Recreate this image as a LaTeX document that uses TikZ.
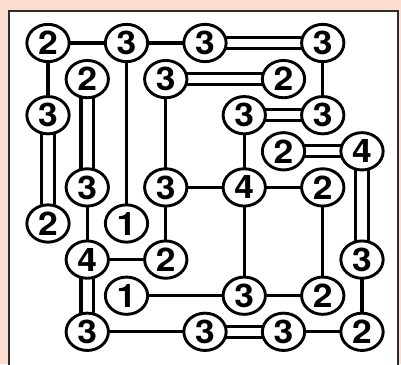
\documentclass[tikz,border=0pt]{standalone}
\usepackage{fontspec}
\setmainfont{TeX Gyre Heros}
\usepackage{graphicx}
\usetikzlibrary{shapes.geometric,backgrounds}
\definecolor{pinkbg}{RGB}{253,221,208}
\definecolor{framec}{RGB}{45,45,45}
\newcommand\islnum[1]{\scalebox{1.09}[1]{#1}}
\newcommand\putisl[4]{\node[isl] (#1) at ({48+39.25*#2},{43+36.1*#3}) {\islnum{#4}};}
\begin{document}
\begin{tikzpicture}[x=1pt,y=-1pt,
  isl/.style={ellipse,draw=black,fill=white,line width=2.9pt,minimum width=42.3pt,minimum height=37.3pt,inner sep=0pt,font=\fontsize{32.5}{32.5}\selectfont\bfseries},
  br/.style={line width=3.1pt,draw=black},
  hdbl/.style={br},
  vdbl/.style={br}]
\useasboundingbox (0,0) rectangle (401,364);
\clip (0,0) rectangle (401,364);
% islands
\putisl{a}{0}{0}{2}
\putisl{b}{2}{0}{3}
\putisl{c}{4}{0}{3}
\putisl{d}{7}{0}{3}
\putisl{e}{1}{1}{2}
\putisl{f}{3}{1}{3}
\putisl{g}{6}{1}{2}
\putisl{h}{0}{2}{3}
\putisl{i}{5}{2}{3}
\putisl{j}{7}{2}{3}
\putisl{k}{6}{3}{2}
\putisl{l}{8}{3}{4}
\putisl{m}{1}{4}{3}
\putisl{n}{3}{4}{3}
\putisl{o}{5}{4}{4}
\putisl{p}{7}{4}{2}
\putisl{q}{0}{5}{2}
\putisl{r}{2}{5}{1}
\putisl{s}{1}{6}{4}
\putisl{t}{3}{6}{2}
\putisl{u}{8}{6}{3}
\putisl{v}{2}{7}{1}
\putisl{w}{5}{7}{3}
\putisl{x}{7}{7}{2}
\putisl{y}{1}{8}{3}
\putisl{z}{4}{8}{3}
\putisl{aa}{6}{8}{3}
\putisl{ab}{8}{8}{2}
\begin{scope}[on background layer]
  \fill[pinkbg] (0,0) rectangle (401,364);
  \filldraw[fill=white,draw=framec,line width=2pt] (9,11) rectangle (398,380);
  % single bridges
  \draw[br] (a.center) -- (b.center);
  \draw[br] (b.center) -- (c.center);
  \draw[br] (a.center) -- (h.center);
  \draw[br] (b.center) -- (r.center);
  \draw[br] (d.center) -- (j.center);
  \draw[br] (f.center) -- (n.center);
  \draw[br] (i.center) -- (o.center);
  \draw[br] (n.center) -- (o.center);
  \draw[br] (o.center) -- (p.center);
  \draw[br] (o.center) -- (w.center);
  \draw[br] (p.center) -- (x.center);
  \draw[br] (m.center) -- (s.center);
  \draw[br] (s.center) -- (t.center);
  \draw[br] (n.center) -- (t.center);
  \draw[br] (v.center) -- (w.center);
  \draw[br] (w.center) -- (x.center);
  \draw[br] (u.center) -- (ab.center);
  \draw[br] (y.center) -- (z.center);
  \draw[br] (aa.center) -- (ab.center);
  % horizontal double bridges
  \foreach \s/\t in {c/d,f/g,i/j,k/l,z/aa}{
    \draw[hdbl] ([yshift=5.5pt]\s.center) -- ([yshift=5.5pt]\t.center);
    \draw[hdbl] ([yshift=-5.5pt]\s.center) -- ([yshift=-5.5pt]\t.center);
  }
  % vertical double bridges
  \foreach \s/\t in {e/m,h/q,l/u,s/y}{
    \draw[vdbl] ([xshift=6.3pt]\s.center) -- ([xshift=6.3pt]\t.center);
    \draw[vdbl] ([xshift=-6.3pt]\s.center) -- ([xshift=-6.3pt]\t.center);
  }
\end{scope}
\end{tikzpicture}
\end{document}
